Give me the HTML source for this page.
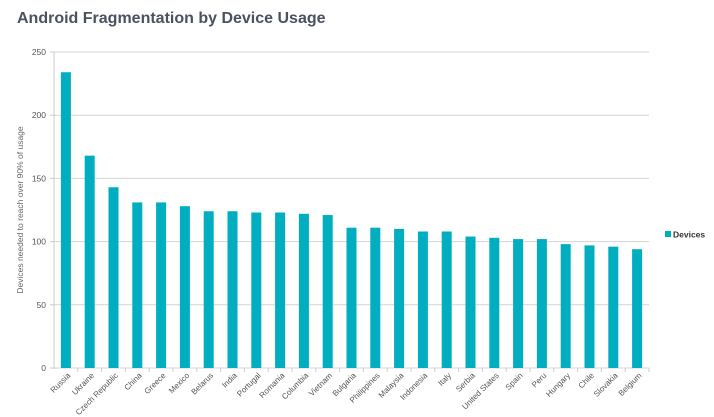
<!DOCTYPE html>
<html><head><meta charset="utf-8"><style>
body{margin:0;background:#fff;width:714px;height:417px;overflow:hidden}
svg{display:block}
text{font-family:"Liberation Sans",sans-serif}
</style></head><body>
<svg id="c" width="714" height="417" viewBox="0 0 714 417" xmlns="http://www.w3.org/2000/svg">
<text x="17" y="23" font-size="16" font-weight="bold" fill="#4a5260">Android Fragmentation by Device Usage</text>
<text transform="translate(23,210) rotate(-90)" text-anchor="middle" font-size="8.5" fill="#666">Devices needed to reach over 90% of usage</text>
<rect x="665" y="231" width="6" height="6" fill="#00aebf"/>
<text x="673" y="237.5" font-size="8.5" font-weight="bold" fill="#333">Devices</text>
<g id="g"></g>
</svg>
<script>
var names=["Russia","Ukraine","Czech Republic","China","Greece","Mexico","Belarus","India","Portugal","Romania","Columbia","Vietnam","Bulgaria","Philippines","Malaysia","Indonesia","Italy","Serbia","United States","Spain","Peru","Hungary","Chile","Slovakia","Belgium"];
var vals=[234,168,143,131,131,128,124,124,123,123,122,121,111,111,110,108,108,104,103,102,102,98,97,96,94];
var s="";var y0=368,k=316/250,x0=54,w=(649-54)/25;
for(var v=0;v<=250;v+=50){var y=y0-v*k;
s+='<line x1="'+(v?54:50)+'" x2="649" y1="'+y+'" y2="'+y+'" stroke="#d4d4d4" stroke-width="1"/>';
s+='<line x1="50" x2="54" y1="'+y+'" y2="'+y+'" stroke="#ccc"/>';
s+='<text x="46" y="'+(y+3)+'" text-anchor="end" font-size="8.5" fill="#555">'+v+'</text>';}
s+='<line x1="54" x2="54" y1="52" y2="369" stroke="#ccc"/>';
for(var i=0;i<25;i++){var cx=x0+w*(i+0.5);var h=vals[i]*k;
s+='<rect x="'+(cx-5)+'" y="'+(y0-h)+'" width="10" height="'+h+'" fill="#00aebf"/>';
s+='<line x1="'+(x0+w*(i+1))+'" x2="'+(x0+w*(i+1))+'" y1="368" y2="372" stroke="#ccc"/>';
s+='<text transform="translate('+(cx+5)+',376) rotate(-45)" text-anchor="end" font-size="8" fill="#555">'+names[i]+'</text>';}
document.getElementById("g").innerHTML=s;
</script>
</body></html>
